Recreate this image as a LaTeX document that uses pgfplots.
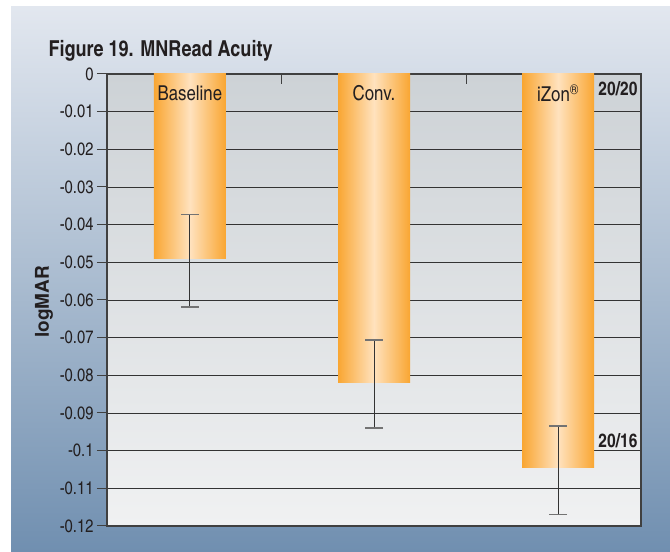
\documentclass[border=0pt]{standalone}
\usepackage{pgfplots}
\pgfplotsset{compat=1.18}
\usepackage{fontspec}
\setmainfont{TeX Gyre Heros Cn}
\newfontfamily\heros{TeX Gyre Heros}
\definecolor{bgtop}{RGB}{226,231,239}
\definecolor{bgmid}{RGB}{170,188,208}
\definecolor{bgbot}{RGB}{112,143,176}
\definecolor{pltop}{RGB}{205,210,214}
\definecolor{plbot}{RGB}{240,241,242}
\definecolor{barEdge}{RGB}{249,166,50}
\definecolor{barMid}{RGB}{255,226,190}
\definecolor{txt}{RGB}{35,31,32}
\begin{document}
\begin{tikzpicture}[x=1pt,y=1pt]
\fill[white] (0,0) rectangle (670,552);
\shade[top color=bgtop, bottom color=bgbot, middle color=bgmid] (11,0) rectangle (670,545);
\begin{axis}[
  at={(107pt,26pt)}, anchor=south west,
  scale only axis, width=534pt, height=452pt,
  xmin=0.55, xmax=3.45, ymin=-0.12, ymax=0,
  axis background/.style={top color=pltop, bottom color=plbot},
  axis line style={draw=black!75, line width=1.2pt},
  ytick={0,-0.01,-0.02,-0.03,-0.04,-0.05,-0.06,-0.07,-0.08,-0.09,-0.1,-0.11,-0.12},
  scaled y ticks=false,
  yticklabel style={/pgf/number format/fixed, /pgf/number format/precision=2},
  /pgf/number format/assume math mode=true,
  tick label style={font=\fontsize{18}{18}\selectfont, text=txt},
  xtick={1.5,2.5}, xticklabels={}, xtick pos=upper, ytick pos=left,
  tick align=outside, major tick length=10pt,
  tick style={draw=black!75, line width=1pt},
  xtick style={yshift=-10pt},
  ymajorgrids, major grid style={draw=black!80, line width=0.9pt},
  clip=false,
]
\addplot[ybar, bar width=72pt, bar shift=0pt, draw=none, left color=barEdge, right color=barEdge, middle color=barMid] coordinates {(1,-0.0491)};
\addplot[ybar, bar width=72pt, bar shift=0pt, draw=none, left color=barEdge, right color=barEdge, middle color=barMid] coordinates {(2,-0.0820)};
\addplot[ybar, bar width=72pt, bar shift=0pt, draw=none, left color=barEdge, right color=barEdge, middle color=barMid] coordinates {(3,-0.1046)};
\addplot[draw=none, mark=none,
  error bars/.cd, y dir=both, y explicit,
  error bar style={draw=black!80, line width=1pt},
  error mark options={rotate=90, mark size=9pt, line width=1.6pt, draw=black!55}]
  coordinates {(1,-0.0496) +- (0,0.0123) (2,-0.0823) +- (0,0.0117) (3,-0.10525) +- (0,0.01175)};
\node[text=txt, font=\fontsize{20.5}{20.5}\selectfont] at (axis cs:1,-0.0051) {Baseline};
\node[text=txt, font=\fontsize{20.5}{20.5}\selectfont] at (axis cs:2,-0.0051) {Conv.};
\node[text=txt, font=\fontsize{20.5}{20.5}\selectfont] at (axis cs:3,-0.0051) {iZon\textsuperscript{®}};
\node[text=txt, anchor=east, font=\bfseries\fontsize{19}{19}\selectfont] at (axis cs:3.45,-0.0038) {20/20};
\node[text=txt, anchor=east, font=\bfseries\fontsize{19}{19}\selectfont] at (axis cs:3.45,-0.0973) {20/16};
\end{axis}
\node[text=txt, anchor=base west, font=\bfseries\fontsize{22}{22}\selectfont] at (45,495.3) {Figure 19. MNRead Acuity};
\node[text=txt, rotate=90, font=\heros\bfseries\fontsize{19}{19}\selectfont] at (44,250) {logMAR};
\pgfresetboundingbox
\useasboundingbox (0,0) rectangle (670,552);
\end{tikzpicture}
\end{document}
